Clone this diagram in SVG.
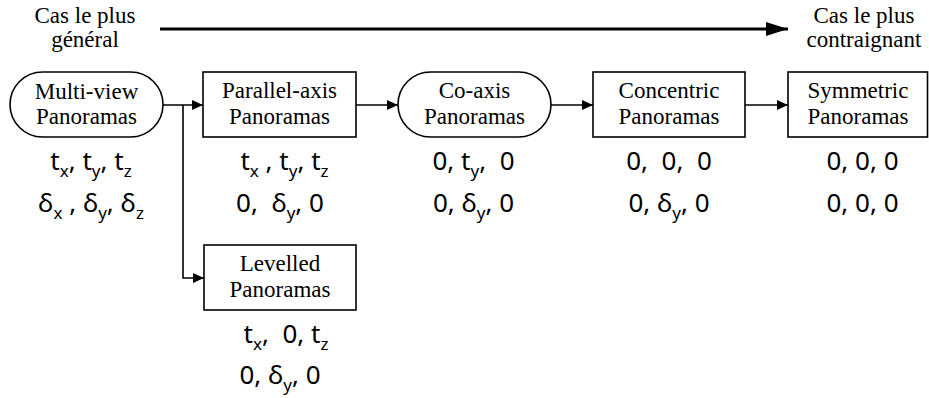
<svg xmlns="http://www.w3.org/2000/svg" width="929" height="398" viewBox="0 0 929 398">
<defs>
<marker id="ah" markerWidth="11" markerHeight="10" refX="11" refY="5" orient="auto" markerUnits="userSpaceOnUse">
<path d="M0,0 L11,5 L0,10 Z" fill="#000"/>
</marker>
<marker id="bigah" markerWidth="22" markerHeight="14" refX="22" refY="7" orient="auto" markerUnits="userSpaceOnUse">
<path d="M0,0 L22,7 L0,14 Z" fill="#000"/>
</marker>
</defs>
<style>
.box{fill:#fff;stroke:#000;stroke-width:1.6}
.lbl{font-family:"Liberation Serif","Times New Roman",serif;font-size:23px;fill:#000;text-anchor:middle}
.par{font-family:"Noto Sans","Open Sans",sans-serif;font-size:26px;fill:#000;text-anchor:middle;white-space:pre}
.s{font-size:17px}
.conn{fill:none;stroke:#000;stroke-width:1.6}
</style>
<rect width="929" height="398" fill="#fff"/>

<g id="top-arrow">
<text class="lbl" x="85" y="23">Cas le plus</text>
<text class="lbl" x="85" y="47">général</text>
<line x1="160" y1="29" x2="788" y2="29" stroke="#000" stroke-width="3.2" marker-end="url(#bigah)"/>
<text class="lbl" x="864" y="23">Cas le plus</text>
<text class="lbl" x="864" y="47">contraignant</text>
</g>

<g id="connectors">
<line class="conn" x1="163" y1="105" x2="203" y2="105" marker-end="url(#ah)"/>
<polyline class="conn" points="183,105 183,278 204,278" marker-end="url(#ah)"/>
<line class="conn" x1="356" y1="105" x2="398" y2="105" marker-end="url(#ah)"/>
<line class="conn" x1="551" y1="105" x2="593" y2="105" marker-end="url(#ah)"/>
<line class="conn" x1="745" y1="105" x2="788" y2="105" marker-end="url(#ah)"/>
</g>

<g id="multiview">
<rect class="box" x="10" y="72" width="153" height="65" rx="32.5" ry="32.5"/>
<text class="lbl" x="86.5" y="99">Multi-view</text>
<text class="lbl" x="86.5" y="124">Panoramas</text>
<text class="par" x="91" y="170">t<tspan class="s" dy="7">x</tspan><tspan dy="-7">, t</tspan><tspan class="s" dy="7">y</tspan><tspan dy="-7">, t</tspan><tspan class="s" dy="7">z</tspan></text>
<text class="par" x="91" y="212">δ<tspan class="s" dy="7">x</tspan><tspan dy="-7"> , δ</tspan><tspan class="s" dy="7">y</tspan><tspan dy="-7">, δ</tspan><tspan class="s" dy="7">z</tspan></text>
</g>

<g id="parallel">
<rect class="box" x="203" y="72" width="153" height="65"/>
<text class="lbl" x="279.5" y="98">Parallel-axis</text>
<text class="lbl" x="279.5" y="124">Panoramas</text>
<text class="par" x="284.5" y="170">t<tspan class="s" dy="7">x</tspan><tspan dy="-7"> , t</tspan><tspan class="s" dy="7">y</tspan><tspan dy="-7">, t</tspan><tspan class="s" dy="7">z</tspan></text>
<text class="par" x="280" y="212">0,  δ<tspan class="s" dy="7">y</tspan><tspan dy="-7">, 0</tspan></text>
</g>

<g id="coaxis">
<rect class="box" x="398" y="72" width="153" height="65" rx="32.5" ry="32.5"/>
<text class="lbl" x="474.5" y="98">Co-axis</text>
<text class="lbl" x="474.5" y="124">Panoramas</text>
<text class="par" x="473.5" y="170">0, t<tspan class="s" dy="7">y</tspan><tspan dy="-7">,  0</tspan></text>
<text class="par" x="473.5" y="212">0, δ<tspan class="s" dy="7">y</tspan><tspan dy="-7">, 0</tspan></text>
</g>

<g id="concentric">
<rect class="box" x="593" y="72" width="152" height="65"/>
<text class="lbl" x="669" y="98">Concentric</text>
<text class="lbl" x="669" y="124">Panoramas</text>
<text class="par" x="669" y="170">0,  0,  0</text>
<text class="par" x="669" y="212">0, δ<tspan class="s" dy="7">y</tspan><tspan dy="-7">, 0</tspan></text>
</g>

<g id="symmetric">
<rect class="box" x="788" y="72" width="139.5" height="65"/>
<text class="lbl" x="858" y="98">Symmetric</text>
<text class="lbl" x="858" y="124">Panoramas</text>
<text class="par" x="862.5" y="170">0, 0, 0</text>
<text class="par" x="862.5" y="212">0, 0, 0</text>
</g>

<g id="levelled">
<rect class="box" x="204" y="245" width="152" height="65"/>
<text class="lbl" x="280" y="271">Levelled</text>
<text class="lbl" x="280" y="297">Panoramas</text>
<text class="par" x="286" y="343">t<tspan class="s" dy="7">x</tspan><tspan dy="-7">,  0, t</tspan><tspan class="s" dy="7">z</tspan></text>
<text class="par" x="280" y="384">0, δ<tspan class="s" dy="7">y</tspan><tspan dy="-7">, 0</tspan></text>
</g>
</svg>
